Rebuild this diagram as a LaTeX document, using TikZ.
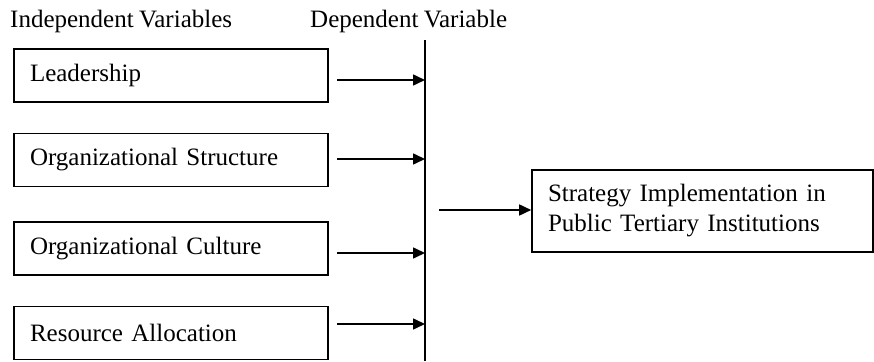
\documentclass[tikz,border=0pt]{standalone}
\usepackage{fontspec}
\setmainfont[WordSpace=0.85]{Liberation Serif}
\usetikzlibrary{arrows.meta}
\begin{document}
\begin{tikzpicture}[x=1pt,y=-1pt,
  varbox/.style={draw,line width=1.6pt,minimum width=314pt,minimum height=53pt,
    text width=282pt,inner xsep=16pt,inner ysep=0pt,align=left,
    font=\fontsize{25}{30}\selectfont},
  outbox/.style={draw,line width=1.6pt,minimum width=341pt,minimum height=82pt,
    text width=309pt,inner xsep=16pt,inner ysep=0pt,align=left,
    font=\fontsize{25}{30}\selectfont},
  hdr/.style={anchor=base west,inner sep=0pt,font=\fontsize{25}{30}\selectfont},
  arr/.style={line width=1.6pt,-{Triangle[length=12pt,width=11pt]}}]
\useasboundingbox (0,0) rectangle (874,361);
\node[hdr] (h1) at (10,28) {Independent Variables};
\node[hdr] (h2) at (310,28) {Dependent Variable};
\node[varbox] (lead) at (171,75.5) {Leadership};
\node[varbox] (struct) at (171,160) {Organizational Structure};
\node[varbox] (cult) at (171,248.5) {Organizational Culture};
\node[varbox] (res) at (171,333) {Resource Allocation};
\node[outbox] (out) at (702.5,211) {Strategy Implementation in\\Public Tertiary Institutions};
\coordinate (bartop) at (425,40);
\coordinate (barbot) at (425,361);
\draw[line width=1.6pt] (bartop) -- (barbot);
\coordinate (a1) at (337,80);
\coordinate (a2) at (337,159);
\coordinate (a3) at (337,253);
\coordinate (a4) at (337,324);
\draw[arr] (a1) -- (a1 -| bartop);
\draw[arr] (a2) -- (a2 -| bartop);
\draw[arr] (a3) -- (a3 -| bartop);
\draw[arr] (a4) -- (a4 -| bartop);
\coordinate (b) at (439,210);
\draw[arr] (b) -- (b -| out.west);
\end{tikzpicture}
\end{document}
